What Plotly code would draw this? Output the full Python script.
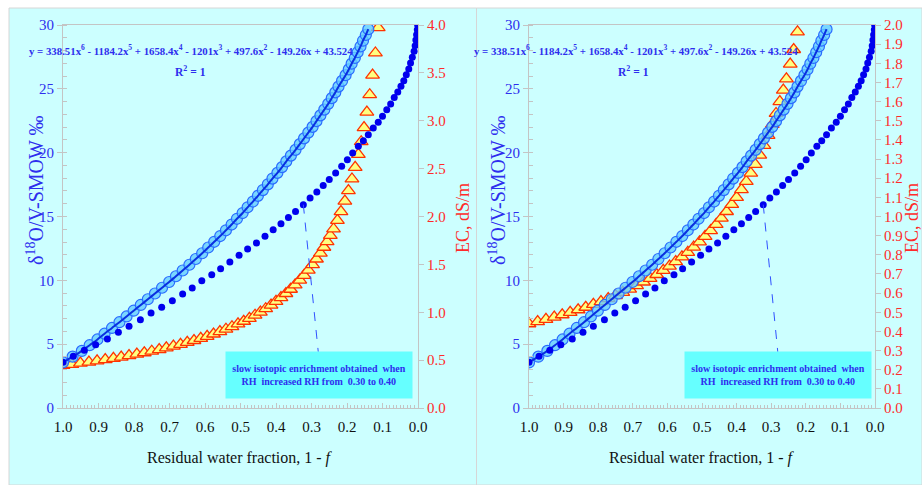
import plotly.graph_objects as go

# ---------------- data ----------------
# delta18O model points (light-blue circles) - same in both panels
circ_x = [1.000, 0.973, 0.947, 0.925, 0.903, 0.883, 0.862, 0.841, 0.821, 0.801,
          0.781, 0.761, 0.741, 0.721, 0.701, 0.682, 0.663, 0.644, 0.626, 0.608,
          0.591, 0.574, 0.557, 0.541, 0.525, 0.510, 0.494, 0.480, 0.465, 0.451,
          0.437, 0.423, 0.410, 0.396, 0.383, 0.371, 0.358, 0.345, 0.333, 0.321,
          0.309, 0.297, 0.286, 0.275, 0.264, 0.253, 0.243, 0.233, 0.224, 0.214,
          0.204, 0.195, 0.187, 0.178, 0.170, 0.162, 0.155, 0.147, 0.140]
circ_y = [3.57, 4.02, 4.47, 4.92, 5.37, 5.82, 6.27, 6.72, 7.17, 7.62,
          8.07, 8.52, 8.97, 9.42, 9.87, 10.32, 10.77, 11.22, 11.67, 12.12,
          12.57, 13.02, 13.47, 13.92, 14.37, 14.82, 15.27, 15.72, 16.17, 16.62,
          17.07, 17.52, 17.97, 18.42, 18.87, 19.32, 19.77, 20.22, 20.67, 21.12,
          21.57, 22.02, 22.47, 22.92, 23.37, 23.82, 24.27, 24.72, 25.17, 25.62,
          26.07, 26.52, 26.97, 27.42, 27.87, 28.32, 28.77, 29.22, 29.67]

# delta18O points (dark-blue dots) - same in both panels
dot_x = [1.000, 0.971, 0.940, 0.908, 0.875, 0.844, 0.814, 0.782, 0.752, 0.722,
         0.692, 0.663, 0.636, 0.609, 0.581, 0.556, 0.530, 0.504, 0.480, 0.455,
         0.431, 0.408, 0.386, 0.365, 0.345, 0.323, 0.304, 0.285, 0.267, 0.250,
         0.232, 0.215, 0.199, 0.184, 0.168, 0.154, 0.140, 0.126, 0.112, 0.100,
         0.088, 0.077, 0.067, 0.057, 0.048, 0.040, 0.033, 0.026, 0.021, 0.016,
         0.011, 0.008, 0.006, 0.004, 0.002, 0.001]
dot_y = [3.58, 4.05, 4.52, 4.96, 5.40, 5.93, 6.40, 6.92, 7.44, 7.89,
         8.41, 8.93, 9.40, 9.97, 10.44, 10.91, 11.44, 11.96, 12.45, 12.92,
         13.45, 13.97, 14.44, 14.93, 15.40, 15.93, 16.45, 16.92, 17.42, 17.89,
         18.41, 18.93, 19.45, 19.97, 20.50, 20.94, 21.41, 21.93, 22.38, 22.85,
         23.37, 23.81, 24.33, 24.75, 25.20, 25.64, 26.11, 26.55, 27.02, 27.47,
         27.94, 28.38, 28.83, 29.24, 29.63, 30.00]

# EC (triangles), left panel
tri_x_left = [1.000, 0.975, 0.951, 0.927, 0.904, 0.881, 0.858, 0.836, 0.814, 0.792,
              0.771, 0.750, 0.729, 0.709, 0.689, 0.669, 0.650, 0.631, 0.612, 0.594,
              0.576, 0.558, 0.541, 0.524, 0.507, 0.491, 0.475, 0.459, 0.444, 0.429,
              0.414, 0.400, 0.386, 0.372, 0.359, 0.346, 0.333, 0.321, 0.309, 0.297,
              0.286, 0.275, 0.265, 0.256, 0.247, 0.238, 0.227, 0.217, 0.206, 0.196,
              0.186, 0.177, 0.168, 0.160, 0.152, 0.144, 0.136, 0.128, 0.120, 0.112]
ec_left = [0.445, 0.456, 0.468, 0.480, 0.492, 0.505, 0.519, 0.532, 0.547, 0.562,
           0.577, 0.593, 0.610, 0.628, 0.646, 0.665, 0.685, 0.705, 0.727, 0.749,
           0.773, 0.797, 0.823, 0.849, 0.878, 0.906, 0.937, 0.969, 1.002, 1.037,
           1.075, 1.113, 1.153, 1.196, 1.240, 1.286, 1.336, 1.386, 1.440, 1.498,
           1.556, 1.618, 1.679, 1.738, 1.802, 1.870, 1.960, 2.051, 2.160, 2.270,
           2.392, 2.514, 2.649, 2.781, 2.928, 3.090, 3.272, 3.477, 3.708, 3.973]

# EC (triangles), right panel
tri_x_right = [1.000, 0.975, 0.951, 0.927, 0.904, 0.881, 0.858, 0.836, 0.814, 0.792,
               0.771, 0.750, 0.729, 0.709, 0.689, 0.669, 0.650, 0.631, 0.612, 0.594,
               0.576, 0.558, 0.541, 0.524, 0.507, 0.491, 0.475, 0.459, 0.444, 0.429,
               0.414, 0.400, 0.386, 0.372, 0.359, 0.346, 0.333, 0.321, 0.309, 0.297,
               0.286, 0.275, 0.265, 0.256, 0.245, 0.235, 0.224]
ec_right = [0.440, 0.451, 0.463, 0.475, 0.487, 0.499, 0.513, 0.526, 0.541, 0.556,
            0.571, 0.587, 0.604, 0.621, 0.639, 0.658, 0.677, 0.697, 0.719, 0.741,
            0.764, 0.789, 0.813, 0.840, 0.868, 0.896, 0.926, 0.959, 0.991, 1.026,
            1.063, 1.100, 1.140, 1.183, 1.226, 1.272, 1.321, 1.371, 1.424, 1.481,
            1.538, 1.600, 1.660, 1.719, 1.796, 1.872, 1.964]

x_tickvals = [1.0, 0.9, 0.8, 0.7, 0.6, 0.5, 0.4, 0.3, 0.2, 0.1, 0.0]
x_ticktext = ["1.0", "0.9", "0.8", "0.7", "0.6", "0.5", "0.4", "0.3", "0.2", "0.1", "0.0"]

eq_text = ("y = 338.51x<sup>6</sup> - 1184.2x<sup>5</sup> + 1658.4x<sup>4</sup> - "
           "1201x<sup>3</sup> + 497.6x<sup>2</sup> - 149.26x + 43.524")
r2_text = "R<sup>2</sup> = 1"
note_text = ("slow isotopic enrichment obtained\u00a0 when<br>"
             "RH\u00a0 increased RH from\u00a0 0.30 to 0.40")
callout_idx = 25            # dot the dashed callout points at
callout_end = (0.281, 4.4)  # top of the note box (x, delta units)
note_pos = (0.279, 2.6)

# ---------------- styling ----------------
W, H = 922, 485
FONT = "Liberation Serif"
BLUE_T = "#2E2EEE"
RED_T = "#FF2A2A"
AX = "#C4C4C4"
PANEL_BG = "#CCFFFF"


def px(x):
    return x / W


def py(y):
    return 1 - y / H


fig = go.Figure()


def add_panel(xa, ya_ec, ya_d, tx, ty):
    fig.add_trace(go.Scatter(x=tx, y=ty, xaxis=xa, yaxis=ya_ec, mode="markers",
                             marker=dict(symbol="triangle-up", size=12, color="#FFFF80",
                                         line=dict(color="#FF3300", width=1.3)),
                             hoverinfo="skip", showlegend=False))
    fig.add_trace(go.Scatter(x=circ_x, y=circ_y, xaxis=xa, yaxis=ya_d, mode="markers",
                             marker=dict(symbol="circle", size=11, color="rgba(100,205,255,0.8)",
                                         line=dict(color="#2A6BFF", width=1.2)),
                             hoverinfo="skip", showlegend=False))
    fig.add_trace(go.Scatter(x=circ_x, y=circ_y, xaxis=xa, yaxis=ya_d, mode="lines",
                             line=dict(color="#0A2FE0", width=2, shape="spline"),
                             hoverinfo="skip", showlegend=False))
    fig.add_trace(go.Scatter(x=dot_x, y=dot_y, xaxis=xa, yaxis=ya_d, mode="markers",
                             marker=dict(symbol="circle", size=7, color="#0000EE"),
                             hoverinfo="skip", showlegend=False))


add_panel("x", "y", "y2", tri_x_left, ec_left)
add_panel("x2", "y3", "y4", tri_x_right, ec_right)

ydom = [py(408), py(25)]


def xaxis_cfg(dom, anchor):
    return dict(domain=dom, anchor=anchor, range=[1.0, 0.0], tickvals=x_tickvals,
                ticktext=x_ticktext, showline=True, linecolor=AX, linewidth=1, mirror=True,
                ticks="inside", ticklen=5, tickcolor=AX, showgrid=False, zeroline=False,
                minor=dict(tick0=0, dtick=0.01, ticks="inside", ticklen=3, tickcolor=AX),
                tickfont=dict(family=FONT, size=15, color="#111111"), ticklabelstandoff=5)


def ec_cfg(anchor, rng, dtick):
    return dict(domain=ydom, anchor=anchor, side="right", range=rng, dtick=dtick,
                tickformat=".1f", showline=True, linecolor=AX, linewidth=1,
                ticks="outside", ticklen=5, tickcolor=AX, showgrid=False, zeroline=False,
                tickfont=dict(family=FONT, size=15, color=RED_T))


def d_cfg(overlay, anchor):
    return dict(overlaying=overlay, anchor=anchor, side="left", range=[0, 30], dtick=5,
                showline=True, linecolor=AX, linewidth=1, ticks="outside", ticklen=5,
                tickcolor=AX, showgrid=False, zeroline=False,
                minor=dict(dtick=1, ticks="inside", ticklen=4, tickcolor=AX),
                tickfont=dict(family=FONT, size=15, color=BLUE_T))


fig.update_layout(
    width=W, height=H, margin=dict(l=0, r=0, t=0, b=0, autoexpand=False),
    paper_bgcolor="white", plot_bgcolor=PANEL_BG,
    xaxis=xaxis_cfg([px(63), px(418)], "y"),
    yaxis=ec_cfg("x", [0, 4.0], 0.5),
    yaxis2=d_cfg("y", "x"),
    xaxis2=xaxis_cfg([px(529), px(875)], "y3"),
    yaxis3=ec_cfg("x2", [0, 2.0], 0.1),
    yaxis4=d_cfg("y3", "x2"),
    showlegend=False,
)

# panel backgrounds
for x0, x1 in [(9, 476.5), (476.5, 922)]:
    fig.add_shape(type="rect", xref="paper", yref="paper", x0=px(x0), x1=px(x1),
                  y0=0, y1=py(8), fillcolor=PANEL_BG, line=dict(color="#D6D6D6", width=1),
                  layer="below")

annos = []
for (xa, yd, cx_eq, cx_r2, cx_dt, cx_ec, cx_xt) in [
        ("x", "y2", 191, 190, 35, 463, 240.5),
        ("x2", "y4", 636, 633, 497, 912, 702)]:
    annos.append(dict(xref="paper", yref="paper", x=px(cx_eq), y=py(50), xanchor="center",
                      yanchor="middle", text="<b>" + eq_text + "</b>", showarrow=False,
                      font=dict(family=FONT, size=10.8, color=BLUE_T)))
    annos.append(dict(xref="paper", yref="paper", x=px(cx_r2), y=py(71), xanchor="center",
                      yanchor="middle", text="<b>" + r2_text + "</b>", showarrow=False,
                      font=dict(family=FONT, size=11.5, color=BLUE_T)))
    annos.append(dict(xref="paper", yref="paper", x=px(cx_dt), y=py(190), xanchor="center",
                      yanchor="middle", text="\u03b4<sup>18</sup>O/V-SMOW \u2030", textangle=-90,
                      showarrow=False, font=dict(family=FONT, size=20, color=BLUE_T)))
    annos.append(dict(xref="paper", yref="paper", x=px(cx_ec), y=py(218), xanchor="center",
                      yanchor="middle", text="EC, dS/m", textangle=-90, showarrow=False,
                      font=dict(family=FONT, size=18, color=RED_T)))
    annos.append(dict(xref="paper", yref="paper", x=px(cx_xt), y=py(458), xanchor="center",
                      yanchor="middle", text="Residual water fraction, 1 - <i>f</i>",
                      showarrow=False, font=dict(family=FONT, size=16, color="#111111")))
    annos.append(dict(xref=xa, yref=yd, x=note_pos[0], y=note_pos[1], xanchor="center",
                      yanchor="middle", text="<b>" + note_text + "</b>",
                      showarrow=False, bgcolor="#66FFFF", width=186, height=46, align="center",
                      valign="middle", borderpad=0,
                      font=dict(family=FONT, size=10, color=BLUE_T)))
    fig.add_shape(type="line", xref=xa, yref=yd, x0=dot_x[callout_idx], y0=dot_y[callout_idx],
                  x1=callout_end[0], y1=callout_end[1],
                  line=dict(color="#3050FF", width=1, dash="dash"))

fig.update_layout(annotations=annos)
fig.write_html("out.html",
               post_script="document.body.style.margin='0';document.body.style.padding='0';")
